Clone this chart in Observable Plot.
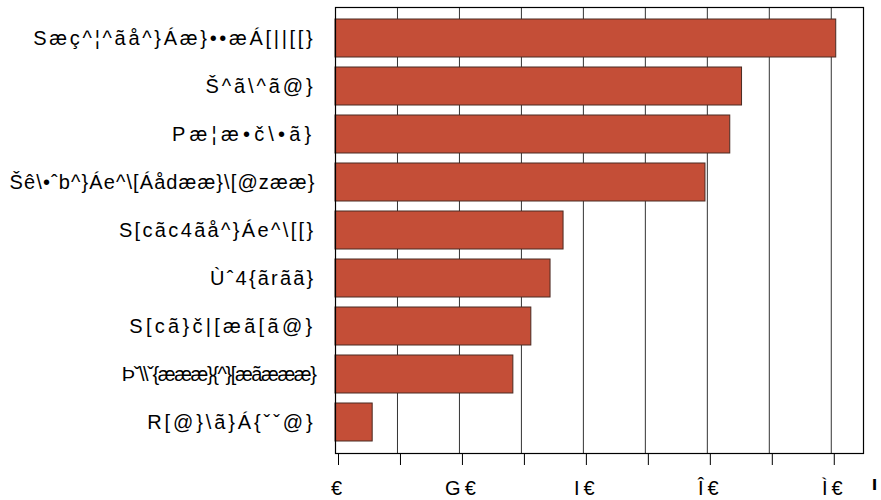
<!DOCTYPE html>
<html>
<head>
<meta charset="utf-8">
<script src="https://cdn.jsdelivr.net/npm/d3@7"></script>
<script src="https://cdn.jsdelivr.net/npm/@observablehq/plot@0.6"></script>
<style>
  html, body { margin: 0; padding: 0; background: white; }
  g[aria-label="y-axis tick label"] text { letter-spacing: 2.7px; }
  g[aria-label="y-axis tick label"] text:nth-child(1) { letter-spacing: 2.7px; }
  g[aria-label="y-axis tick label"] text:nth-child(2) { letter-spacing: 2.9px; }
  g[aria-label="y-axis tick label"] text:nth-child(3) { letter-spacing: 4.2px; }
  g[aria-label="y-axis tick label"] text:nth-child(4) { letter-spacing: 1.1px; }
  g[aria-label="y-axis tick label"] text:nth-child(5) { letter-spacing: 2.35px; }
  g[aria-label="y-axis tick label"] text:nth-child(6) { letter-spacing: 2.2px; }
  g[aria-label="y-axis tick label"] text:nth-child(7) { letter-spacing: 3.3px; }
  g[aria-label="y-axis tick label"] text:nth-child(8) { letter-spacing: -1.4px; }
  g[aria-label="y-axis tick label"] text:nth-child(9) { letter-spacing: 2.9px; }
  g[aria-label="x-axis tick label"] text { letter-spacing: 4px; }
</style>
</head>
<body>
<div id="chart"></div>
<script>
const categories = [
  String.raw`Sæç^¦^ãå^}Áæ}••æÁ[||[[}`,
  String.raw`Š^ã\^ã@}`,
  String.raw`Pæ¦æ•č\•ã}`,
  String.raw`Šê\•ˆb^}Áe^\[Áådææ}\[@zææ}`,
  String.raw`S[cãc4ãå^}Áe^\[[}`,
  String.raw`Ùˆ4{ãrãã}`,
  String.raw`S[cã}č|[æã[ã@}`,
  String.raw`Þˇ\\ˇ{æææ}{^}[æãæææ}`,
  String.raw`R[@}\ã}Á{ˇˇ@}`
];
const values = [80.8, 65.6, 63.7, 59.7, 36.8, 34.7, 31.6, 28.7, 6.0];
const xTicks = [0, 10, 20, 30, 40, 50, 60, 70, 80];
const xTickLabels = {0: "€", 20: "G€", 40: "I€", 60: "Î€", 80: "Ì€"};
const extraMark = ["ı"];

const data = categories.map((c, i) => ({cat: c, value: values[i]}));

const chart = Plot.plot({
  width: 881,
  height: 500,
  marginLeft: 335,
  marginRight: 18,
  marginTop: 7,
  marginBottom: 47,
  style: {
    fontFamily: "'Liberation Sans', Arial, Helvetica, sans-serif",
    fontSize: "20px",
    color: "black",
    background: "white",
    overflow: "visible"
  },
  x: {domain: [0, 85.2]},
  y: {domain: categories, padding: 0.2},
  marks: [
    Plot.gridX(xTicks, {stroke: "#333", strokeOpacity: 1, strokeWidth: 1}),
    Plot.barX(data, {x: "value", y: "cat", fill: "#c44e37", stroke: "#4a2a22", strokeWidth: 1}),
    Plot.frame({stroke: "black", strokeWidth: 1.2}),
    Plot.axisX(xTicks, {
      tickSize: 12,
      tickPadding: 15,
      dx: 3,
      fontSize: 20,
      tickFormat: d => xTickLabels[d] ?? "",
      label: null
    }),
    Plot.axisY({tickSize: 0, tickPadding: 20, fontSize: 20, label: null}),
    Plot.text(extraMark, {
      x: () => 87.0,
      frameAnchor: "bottom",
      dy: 36,
      text: d => d,
      fontSize: 20,
      fontWeight: "bold",
      fill: "black"
    })
  ]
});
document.getElementById("chart").appendChild(chart);
</script>
</body>
</html>
